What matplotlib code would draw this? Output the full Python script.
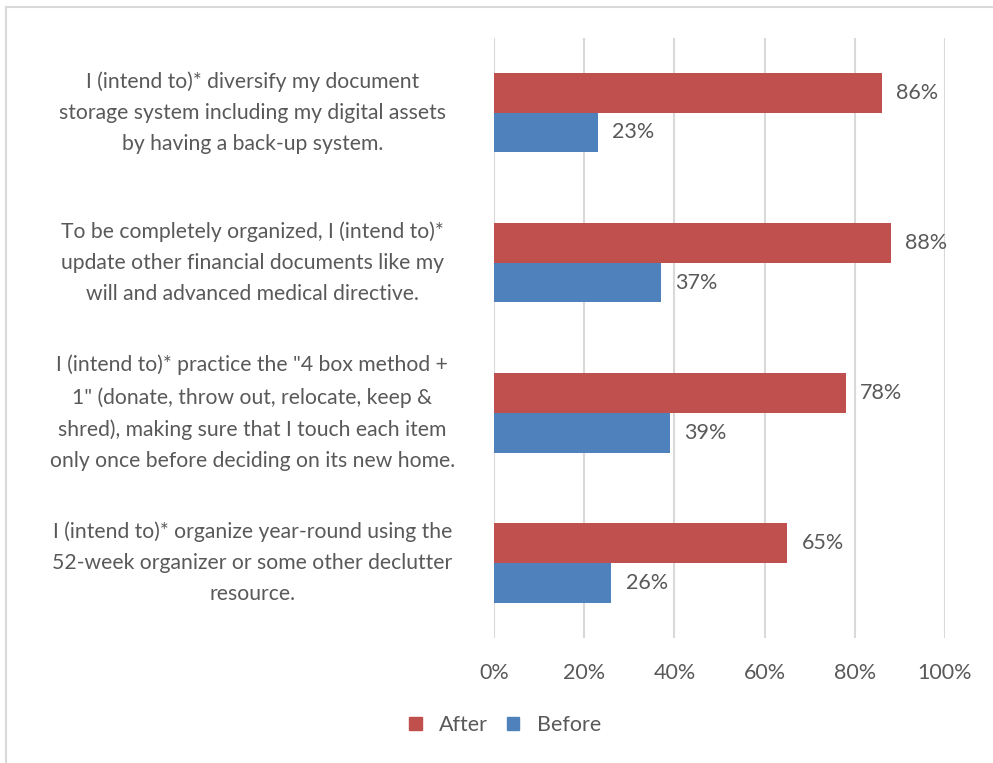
import matplotlib
matplotlib.use("Agg")
import matplotlib.pyplot as plt
from matplotlib.lines import Line2D
from matplotlib.patches import Patch
import numpy as np

plt.rcParams['font.family'] = ['Lato', 'DejaVu Sans']

categories = [
    "I (intend to)* diversify my document\nstorage system including my digital assets\nby having a back-up system.",
    "To be completely organized, I (intend to)*\nupdate other financial documents like my\nwill and advanced medical directive.",
    "I (intend to)* practice the \"4 box method +\n1\" (donate, throw out, relocate, keep &\nshred), making sure that I touch each item\nonly once before deciding on its new home.",
    "I (intend to)* organize year-round using the\n52-week organizer or some other declutter\nresource.",
]
after = [86, 88, 78, 65]
before = [23, 37, 39, 26]
xticks = [0, 20, 40, 60, 80, 100]
xticklabels = ["0%", "20%", "40%", "60%", "80%", "100%"]

red = "#C0504D"
blue = "#4F81BD"
txt = "#595959"

fig = plt.figure(figsize=(9.93, 7.63), dpi=100)
ax = fig.add_axes([494/993, 1-638/763, (945-494)/993, (638-37.5)/763])

y = np.arange(len(categories))
h = 0.265
ax.barh(y - h/2, after, height=h, color=red, label="After", zorder=3)
ax.barh(y + h/2, before, height=h, color=blue, label="Before", zorder=3)

for yi, v in zip(y, after):
    ax.text(v + 3.2, yi - h/2, f"{v}%", va="center", ha="left", fontsize=15.5, color=txt)
for yi, v in zip(y, before):
    ax.text(v + 3.2, yi + h/2, f"{v}%", va="center", ha="left", fontsize=15.5, color=txt)

ax.set_ylim(len(categories) - 0.5, -0.5)
ax.set_xlim(0, 100)
ax.set_xticks(xticks)
ax.set_xticklabels(xticklabels, fontsize=15.5, color=txt)
ax.set_yticks(y)
ax.set_yticklabels(categories, fontsize=15.2, color=txt, ha="center", linespacing=1.7)
for t in ax.get_yticklabels():
    t.set_verticalalignment("center")
ax.tick_params(axis="y", length=0, pad=174)
ax.tick_params(axis="x", length=0, pad=18)
ax.grid(axis="x", color="#D9D9D9", linewidth=1.5, zorder=0)
for s in ax.spines.values():
    s.set_visible(False)

handles = [Patch(color=red, label="After"), Patch(color=blue, label="Before")]
fig.legend(handles=handles, loc="center", bbox_to_anchor=(505/993, 1-725/763), ncol=2,
           frameon=False, fontsize=15.5, labelcolor=txt, handlelength=0.6, handleheight=0.6,
           handletextpad=0.8, columnspacing=0.85)

fig.add_artist(Line2D([6/993, 1], [1-7/763, 1-7/763], color="#D9D9D9", linewidth=1.5, transform=fig.transFigure))
fig.add_artist(Line2D([6/993, 6/993], [0, 1-7/763], color="#D9D9D9", linewidth=1.5, transform=fig.transFigure))

fig.savefig("out.png", dpi=100, facecolor="white")
